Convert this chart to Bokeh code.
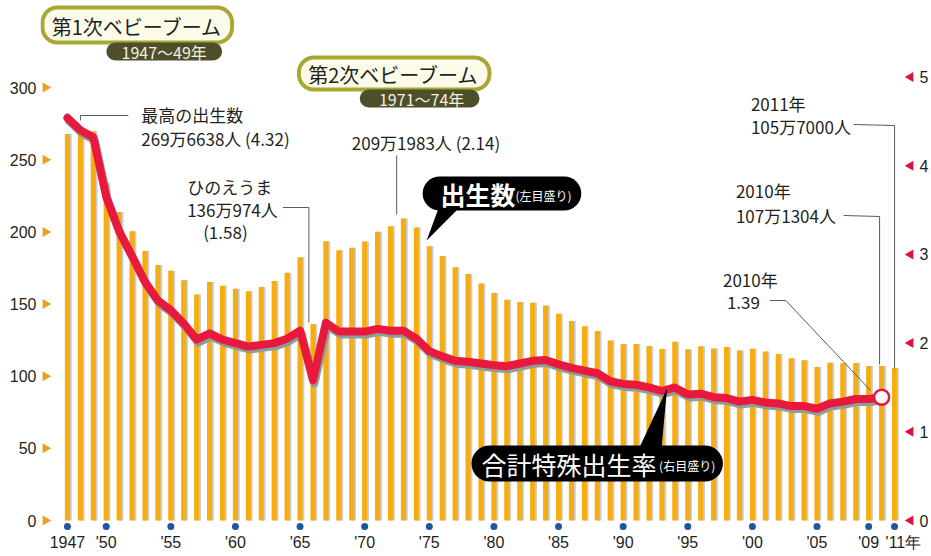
import math
from bokeh.plotting import figure
from bokeh.models import Range1d, LinearAxis, FixedTicker
from bokeh.core.properties import value
from bokeh.embed import file_html
from bokeh.resources import INLINE

# ---------------- data ----------------
years = list(range(1947, 2012))
births = [267.9, 268.2, 269.7, 233.8, 213.8, 200.5, 186.8, 177.0, 173.1, 166.5,
          156.7, 165.3, 162.6, 160.6, 158.9, 161.9, 166.0, 171.7, 182.4, 136.1,
          193.6, 187.2, 189.0, 193.4, 200.1, 203.9, 209.2, 203.0, 190.1, 183.3,
          175.5, 170.9, 164.3, 157.7, 152.9, 151.5, 150.9, 149.0, 143.2, 138.3,
          134.7, 131.4, 124.7, 122.2, 122.3, 120.9, 118.8, 123.8, 118.7, 120.7,
          119.2, 120.3, 117.8, 119.1, 117.1, 115.4, 112.4, 111.1, 106.3, 109.3,
          109.0, 109.1, 107.0, 107.1, 105.7]
tfr_years = list(range(1947, 2011))
tfr = [4.54, 4.40, 4.32, 3.65, 3.26, 2.98, 2.69, 2.48, 2.37, 2.22,
       2.04, 2.11, 2.04, 2.00, 1.96, 1.98, 2.00, 2.05, 2.14, 1.58,
       2.23, 2.13, 2.13, 2.13, 2.16, 2.14, 2.14, 2.05, 1.91, 1.85,
       1.80, 1.79, 1.77, 1.75, 1.74, 1.77, 1.80, 1.81, 1.76, 1.72,
       1.69, 1.66, 1.57, 1.54, 1.53, 1.50, 1.46, 1.50, 1.42, 1.43,
       1.39, 1.38, 1.34, 1.36, 1.33, 1.32, 1.29, 1.29, 1.26, 1.32,
       1.34, 1.37, 1.37, 1.39]
left_ticks = [0, 50, 100, 150, 200, 250, 300]
right_ticks = [0, 1, 2, 3, 4, 5]
x_ticks = [1947, 1950, 1955, 1960, 1965, 1970, 1975, 1980, 1985, 1990,
           1995, 2000, 2005, 2009, 2011]
x_tick_labels = ["1947", "'50", "'55", "'60", "'65", "'70", "'75", "'80", "'85",
                 "'90", "'95", "'00", "'05", "'09", "\u2007\u2007'11年"]

# ---------------- layout constants (pixels) ----------------
W, H = 931, 556
FL, FR, FB = 40, 918, 531
X0, PXY = 67, 12.953          # pixel of 1947, pixels per year
Y0, PXL, PXR = 520, 1.443, 88.7  # pixel of zero, px per 万人, px per TFR unit


def X(px):
    return 1947 + (px - X0) / PXY


def Y(py):
    return (Y0 - py) / PXL


JP = value("Noto Sans CJK JP")
NUM = "Liberation Sans"
INK = "#231f1c"
ORANGE = "#F5AD12"
RED = "#E8193C"

p = figure(width=W, height=H, output_backend="svg", toolbar_location=None,
           x_range=Range1d(X(FL), X(FR)),
           y_range=Range1d(Y(FB), Y(0)),
           min_border_left=FL, min_border_right=W - FR,
           min_border_top=0, min_border_bottom=H - FB,
           outline_line_color=None, background_fill_color="white",
           border_fill_color="white")
p.xgrid.visible = False
p.ygrid.visible = False
p.extra_y_ranges = {"right": Range1d(-(FB - Y0) / PXR, Y0 / PXR)}


def style_axis(ax, standoff):
    ax.axis_line_color = None
    ax.major_tick_line_color = None
    ax.minor_tick_line_color = None
    ax.major_tick_out = 0
    ax.major_tick_in = 0
    ax.minor_tick_out = 0
    ax.minor_tick_in = 0
    ax.major_label_standoff = standoff
    ax.major_label_text_font = NUM
    ax.major_label_text_font_size = "16px"
    ax.major_label_text_color = INK


p.xaxis.ticker = FixedTicker(ticks=x_ticks)
p.xaxis.major_label_overrides = {t: l for t, l in zip(x_ticks, x_tick_labels)}
style_axis(p.xaxis[0], 2)
p.yaxis.ticker = FixedTicker(ticks=left_ticks)
style_axis(p.yaxis[0], 4)
rax = LinearAxis(y_range_name="right", ticker=FixedTicker(ticks=right_ticks))
style_axis(rax, 3)
p.add_layout(rax, "right")

# tick markers
p.scatter(x=[X(45)] * len(left_ticks), y=left_ticks, marker="triangle",
          angle=-math.pi / 2, size=10, fill_color="#EE9F1C", line_color=None)
p.scatter(x=[X(912)] * len(right_ticks), y=right_ticks, y_range_name="right",
          marker="triangle", angle=math.pi / 2, size=10, fill_color="#E2103F",
          line_color=None)
p.scatter(x=x_ticks, y=[Y(526)] * len(x_ticks), marker="circle", size=7,
          fill_color="#1F56A4", line_color=None)
p.text(x=[X(22)], y=[Y(103)], text=["万人"], text_font=JP, text_font_size="13px",
       text_align="center", text_baseline="middle", text_color=INK)

# bars (shadow + bar)
p.vbar(x=[y + 2.0 / PXY for y in years], top=births, width=0.36,
       fill_color="#C9CED9", line_color=None)
p.vbar(x=years, top=births, width=0.40, fill_color=ORANGE, line_color=None)

# TFR line (shadow + line)
p.line(x=[y + 1.5 / PXY for y in tfr_years], y=[v - 3.0 / PXR for v in tfr],
       y_range_name="right", line_width=8, line_color="#8E9C9A",
       line_join="round", line_cap="round")
p.line(x=tfr_years, y=tfr, y_range_name="right", line_width=8,
       line_color=RED, line_join="round", line_cap="round")
p.scatter(x=[tfr_years[-1]], y=[tfr[-1]], y_range_name="right", size=15,
          fill_color="white", line_color=RED, line_width=2.5)

# leader lines
LC = "#5a5a5a"
leaders = [
    [(128, 115), (80, 115), (80, 120)],
    [(283, 207), (309, 207), (309, 322)],
    [(397, 155), (397, 214)],
    [(855, 124), (896, 125), (896, 368)],
    [(845, 215), (881, 216), (881, 364)],
    [(771, 300), (787, 300), (872, 390)],
]
for seg in leaders:
    p.line(x=[X(a) for a, b in seg], y=[Y(b) for a, b in seg],
           line_color=LC, line_width=1)


def txt(px, py, s, size="17px", align="left", color=INK, style="normal"):
    p.text(x=[X(px)], y=[Y(py)], text=[s], text_font=JP, text_font_size=size,
           text_align=align, text_baseline="middle", text_color=color,
           text_font_style=style)


txt(141, 114, "最高の出生数")
txt(141, 138, "269万6638人 (4.32)")
txt(187, 186, "ひのえうま")
txt(187, 209, "136万974人")
txt(203, 231, "(1.58)")
txt(352, 142, "209万1983人 (2.14)")
txt(752, 103, "2011年")
txt(752, 126, "105万7000人")
txt(737, 190, "2010年")
txt(737, 215, "107万1304人")
txt(724, 279, "2010年")
txt(728, 302, "1.39")


def rbox(l, t, r, b, fill, line=None, lw=0, radius=10):
    p.quad(left=[X(l)], right=[X(r)], top=[Y(t)], bottom=[Y(b)],
           fill_color=fill, line_color=line, line_width=lw,
           border_radius=radius)


# baby boom labels
rbox(42, 7, 232, 42, "#FCFBEA", "#A9A733", 4, 15)
rbox(106, 42, 222, 60, "#4F4E2B", None, 0, 9)
txt(137, 26, "第1次ベビーブーム", size="20px", align="center")
txt(164, 51, "1947〜49年", size="16px", align="center", color="#F2F1DF")

rbox(299, 57, 490, 89, "#FCFBEA", "#A9A733", 4, 15)
rbox(360, 89, 480, 107, "#4F4E2B", None, 0, 9)
txt(394, 74, "第2次ベビーブーム", size="20px", align="center")
txt(422, 98, "1971〜74年", size="16px", align="center", color="#F2F1DF")

# callouts
p.patch(x=[X(440), X(462), X(427)], y=[Y(205), Y(205), Y(240)],
        fill_color="black", line_color=None)
rbox(423, 176, 582, 210, "black", None, 0, 17)
txt(441, 193, "出生数", size="25px", color="white", style="bold")
txt(516, 195, "(左目盛り)", size="12px", color="white")

p.patch(x=[X(638), X(662), X(668)], y=[Y(452), Y(452), Y(388)],
        fill_color="black", line_color=None)
rbox(472, 445, 724, 481, "black", None, 0, 18)
txt(482, 463, "合計特殊出生率", size="25px", color="white")
txt(660, 465, "(右目盛り)", size="12px", color="white")

open("out.html", "w").write(file_html(p, INLINE))
